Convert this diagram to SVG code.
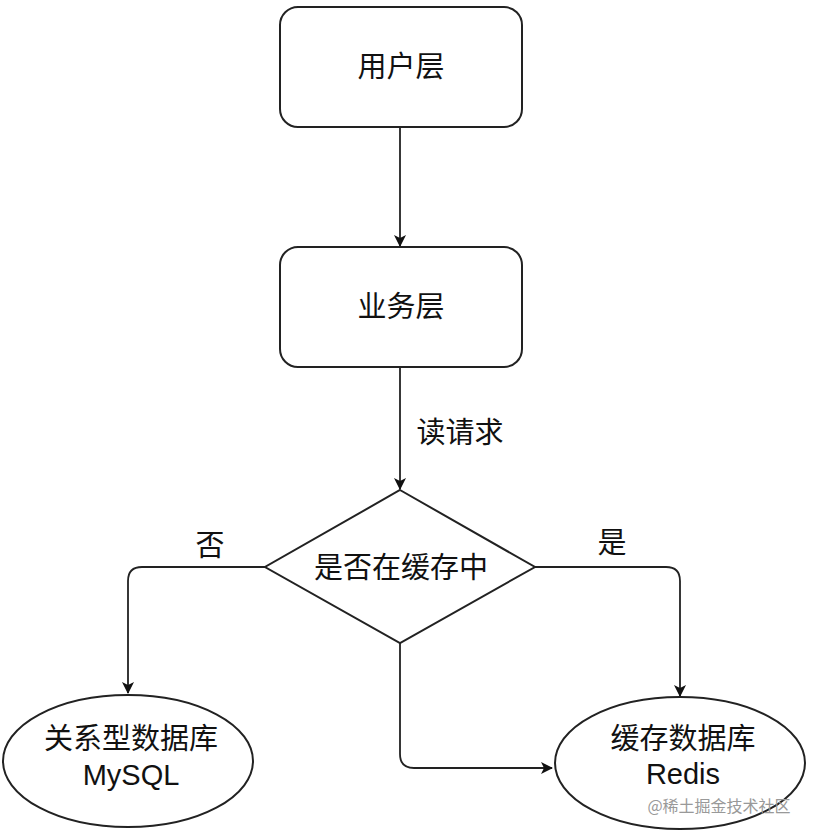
<svg xmlns="http://www.w3.org/2000/svg" width="820" height="830" viewBox="0 0 820 830">
<defs>
<style>
.n{fill:#fff;stroke:#222;stroke-width:2}
.c{fill:none;stroke:#222;stroke-width:1.8}
.t{font-family:"Liberation Sans","Noto Sans CJK SC",sans-serif;font-size:29px;fill:#111;text-anchor:middle}
.l{font-family:"Liberation Sans","Noto Sans CJK SC",sans-serif;font-size:29px;fill:#111;text-anchor:middle}
.w{font-family:"Noto Sans CJK SC",sans-serif;font-size:16px;fill:#999;text-anchor:middle}
</style>
<marker id="ah" viewBox="0 0 12 12" refX="11" refY="6" markerWidth="12" markerHeight="12" markerUnits="userSpaceOnUse" orient="auto">
<path d="M0,0 L12,6 L0,12 L3,6 Z" fill="#111"/>
</marker>
</defs>
<rect width="820" height="830" fill="#fff"/>
<g id="connectors">
<path class="c" d="M400,127 L400,246" marker-end="url(#ah)"/>
<path class="c" d="M400,367 L400,489" marker-end="url(#ah)"/>
<path class="c" d="M265,567 L142,567 Q128,567 128,581 L128,693" marker-end="url(#ah)"/>
<path class="c" d="M535,567 L666,567 Q680,567 680,581 L680,696" marker-end="url(#ah)"/>
<path class="c" d="M400,643 L400,754 Q400,768 414,768 L552,768" marker-end="url(#ah)"/>
</g>
<g id="user">
<rect class="n" x="280" y="7" width="242" height="120" rx="18"/>
<text class="t" x="401" y="77">用户层</text>
</g>
<g id="business">
<rect class="n" x="280" y="247" width="242" height="120" rx="18"/>
<text class="t" x="401" y="317">业务层</text>
</g>
<g id="decision">
<polygon class="n" points="400,490 535,567 400,643 265,567"/>
<text class="t" x="401" y="578">是否在缓存中</text>
</g>
<g id="mysql">
<ellipse class="n" cx="128" cy="761" rx="125" ry="66"/>
<text class="t" x="131" y="749">关系型数据库</text>
<text class="t" x="131" y="785">MySQL</text>
</g>
<g id="redis">
<ellipse class="n" cx="680" cy="763" rx="125" ry="66"/>
<text class="t" x="683" y="749">缓存数据库</text>
<text class="t" x="683" y="784">Redis</text>
</g>
<g id="labels">
<text class="l" x="460" y="443">读请求</text>
<text class="l" x="210" y="556">否</text>
<text class="l" x="612" y="553">是</text>
</g>
<text class="w" x="719" y="812">@稀土掘金技术社区</text>
</svg>
